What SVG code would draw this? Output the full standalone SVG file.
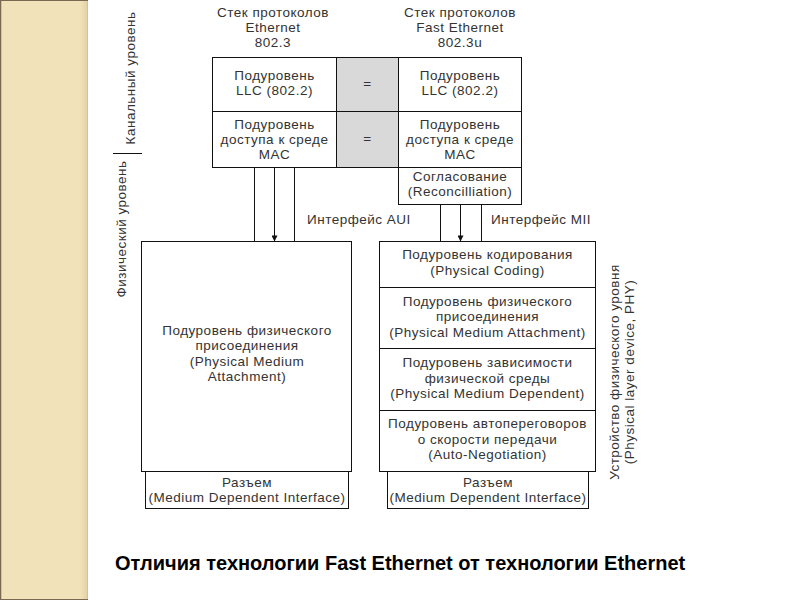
<svg xmlns="http://www.w3.org/2000/svg" width="800" height="600" viewBox="0 0 800 600">
<defs>
<marker id="arr" viewBox="0 0 10 10" refX="10" refY="5" markerWidth="7" markerHeight="6" markerUnits="userSpaceOnUse" orient="auto">
<path d="M0,0 L10,5 L0,10 z" fill="#111"/>
</marker>
<linearGradient id="edge" x1="0" y1="0" x2="1" y2="0">
<stop offset="0" stop-color="#f2e2b9"/>
<stop offset="0.9" stop-color="#e3d2a8"/>
<stop offset="1" stop-color="#b5a585"/>
</linearGradient>
</defs>
<style>
.box{fill:#fff;stroke:#111;stroke-width:1}
.gray{fill:#d9d9d9;stroke:#111;stroke-width:1}
.ln{stroke:#111;stroke-width:1;fill:none}
text{font-family:"Liberation Sans",Arial,sans-serif;font-size:13.5px;fill:#333;letter-spacing:0.5px}
.c{text-anchor:middle}
.cap{font-size:20px;font-weight:bold;fill:#000;letter-spacing:0}
</style>
<rect width="800" height="600" fill="#fff"/>
<g id="sidebar">
<rect x="0" y="0" width="88" height="600" fill="#f2e2b9"/>
<rect x="80" y="0" width="8" height="600" fill="url(#edge)"/>
<line x1="0.5" y1="0" x2="0.5" y2="600" stroke="#7a6a52" stroke-width="1.5"/>
<line x1="0" y1="0.5" x2="88" y2="0.5" stroke="#7a6a52"/>
<line x1="0" y1="599.5" x2="88" y2="599.5" stroke="#7a6a52"/>
</g>
<g id="level-labels">
<text class="c" transform="translate(135,78) rotate(-90)">Канальный уровень</text>
<line class="ln" x1="113" y1="153.5" x2="142" y2="153.5"/>
<text class="c" transform="translate(126,229) rotate(-90)">Физический уровень</text>
</g>
<g id="header-ethernet">
<text class="c" x="273" y="17">Стек протоколов</text>
<text class="c" x="273" y="32">Ethernet</text>
<text class="c" x="273" y="47">802.3</text>
</g>
<g id="header-fast">
<text class="c" x="460" y="17">Стек протоколов</text>
<text class="c" x="460" y="32">Fast Ethernet</text>
<text class="c" x="460" y="47">802.3u</text>
</g>
<g id="llc-eth">
<rect class="box" x="212.5" y="57.5" width="124" height="54"/>
<text class="c" x="274.5" y="80">Подуровень</text>
<text class="c" x="274.5" y="95">LLC (802.2)</text>
</g>
<g id="llc-eq">
<rect class="gray" x="336.5" y="57.5" width="62" height="54"/>
<text class="c" x="367.5" y="88">=</text>
</g>
<g id="llc-fast">
<rect class="box" x="398.5" y="57.5" width="123" height="54"/>
<text class="c" x="460" y="80">Подуровень</text>
<text class="c" x="460" y="95">LLC (802.2)</text>
</g>
<g id="mac-eth">
<rect class="box" x="212.5" y="111.5" width="124" height="56"/>
<text class="c" x="274.5" y="129">Подуровень</text>
<text class="c" x="274.5" y="144">доступа к среде</text>
<text class="c" x="274.5" y="159">MAC</text>
</g>
<g id="mac-eq">
<rect class="gray" x="336.5" y="111.5" width="62" height="56"/>
<text class="c" x="367.5" y="143">=</text>
</g>
<g id="mac-fast">
<rect class="box" x="398.5" y="111.5" width="123" height="56"/>
<text class="c" x="460" y="129">Подуровень</text>
<text class="c" x="460" y="144">доступа к среде</text>
<text class="c" x="460" y="159">MAC</text>
</g>
<g id="reconciliation">
<rect class="box" x="398.5" y="167.5" width="123" height="37"/>
<text class="c" x="460" y="181">Согласование</text>
<text class="c" x="460" y="196">(Reconcilliation)</text>
</g>
<g id="connectors">
<line class="ln" x1="254.5" y1="167.5" x2="254.5" y2="241.5"/>
<line class="ln" x1="274.5" y1="167.5" x2="274.5" y2="241.5" marker-end="url(#arr)"/>
<line class="ln" x1="294.5" y1="167.5" x2="294.5" y2="241.5"/>
<line class="ln" x1="440.5" y1="204.5" x2="440.5" y2="241.5"/>
<line class="ln" x1="460.5" y1="204.5" x2="460.5" y2="241.5" marker-end="url(#arr)"/>
<line class="ln" x1="481.5" y1="204.5" x2="481.5" y2="241.5"/>
<text x="307" y="224">Интерфейс AUI</text>
<text x="491" y="224">Интерфейс MII</text>
</g>
<g id="pma-eth">
<rect class="box" x="141.5" y="241.5" width="210" height="230"/>
<text class="c" x="247" y="334.5">Подуровень физического</text>
<text class="c" x="247" y="350">присоединения</text>
<text class="c" x="247" y="365.5">(Physical Medium</text>
<text class="c" x="247" y="381">Attachment)</text>
</g>
<g id="mdi-eth">
<rect class="box" x="145.5" y="471.5" width="203" height="37"/>
<text class="c" x="247" y="486.5">Разъем</text>
<text class="c" x="247" y="501.5">(Medium Dependent Interface)</text>
</g>
<g id="pcs-fast">
<rect class="box" x="379.5" y="241.5" width="216" height="46"/>
<text class="c" x="487.5" y="259">Подуровень кодирования</text>
<text class="c" x="487.5" y="274.5">(Physical Coding)</text>
</g>
<g id="pma-fast">
<rect class="box" x="379.5" y="287.5" width="216" height="61"/>
<text class="c" x="487.5" y="305.5">Подуровень физического</text>
<text class="c" x="487.5" y="321">присоединения</text>
<text class="c" x="487.5" y="336.5">(Physical Medium Attachment)</text>
</g>
<g id="pmd-fast">
<rect class="box" x="379.5" y="348.5" width="216" height="62"/>
<text class="c" x="487.5" y="367">Подуровень зависимости</text>
<text class="c" x="487.5" y="382.5">физической среды</text>
<text class="c" x="487.5" y="398">(Physical Medium Dependent)</text>
</g>
<g id="an-fast">
<rect class="box" x="379.5" y="410.5" width="216" height="61"/>
<text class="c" x="487.5" y="428">Подуровень автопереговоров</text>
<text class="c" x="487.5" y="443.5">о скорости передачи</text>
<text class="c" x="487.5" y="459">(Auto-Negotiation)</text>
</g>
<g id="mdi-fast">
<rect class="box" x="387.5" y="471.5" width="201" height="37"/>
<text class="c" x="488" y="486.5">Разъем</text>
<text class="c" x="488" y="501.5">(Medium Dependent Interface)</text>
</g>
<g id="phy-label">
<text class="c" transform="translate(619,372) rotate(-90)">Устройство физического уровня</text>
<text class="c" transform="translate(634,372) rotate(-90)">(Physical layer device, PHY)</text>
</g>
<g id="caption">
<text class="cap" x="115" y="570">Отличия технологии Fast Ethernet от технологии Ethernet</text>
</g>
</svg>
